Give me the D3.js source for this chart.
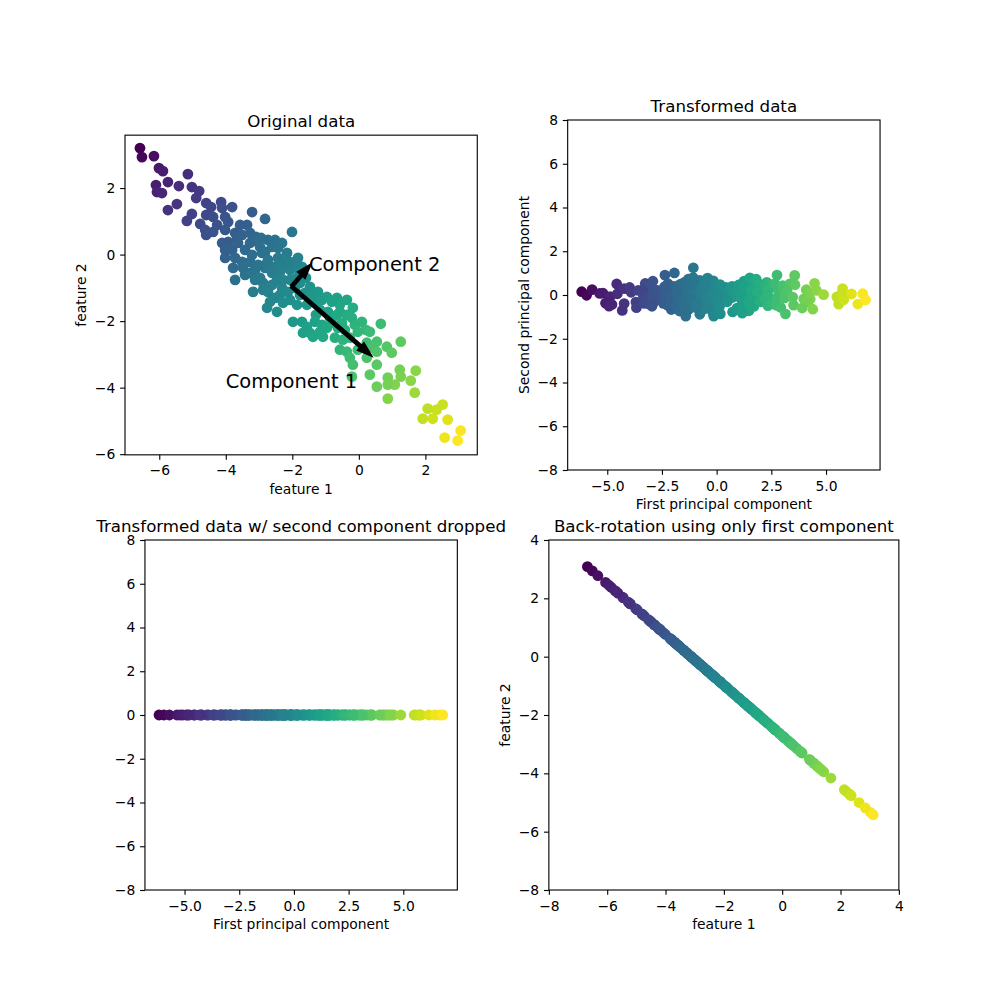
<!DOCTYPE html>
<html>
<head>
<meta charset="utf-8">
<script src="https://cdn.jsdelivr.net/npm/d3@7"></script>
<style>
body { margin: 0; background: #fff; }
text { font-family: "DejaVu Sans", sans-serif; fill: #000; }
</style>
</head>
<body>
<svg id="chart" width="1000" height="1000"></svg>
<script>
const feature1 = [
  -6.58,-6.52,-6.16,-6.01,-5.89,-5.14,-5.74,-5.41,-6.10,-6.07,-5.92,-5.02,-4.80,-4.89,-4.59,-5.47,-5.74,-5.02,-5.17,-4.59,
  -4.38,-4.14,-4.11,-3.81,-3.21,-4.77,-4.62,-4.38,-4.59,-4.02,-3.93,-4.11,-3.93,-4.02,-4.44,
  -2.82,-3.36,-4.02,-3.72,-3.51,-3.27,-3.09,-3.66,-3.93,-3.63,-4.02,-3.81,-3.42,-3.03,-2.73,-2.61,-2.94,-2.97,-2.82,-2.01,
  -3.72,-3.21,-2.91,-2.73,-2.43,-3.51,-3.78,-3.42,-3.72,-3.27,-3.12,-2.82,-2.76,-2.61,-2.52,-2.37,-2.22,-2.07,-2.37,-3.18,
  -2.88,-2.88,-2.61,-2.46,-2.31,-2.52,-2.16,-2.22,-1.98,-1.71,-3.12,-2.28,-2.37,-2.67,-2.28,-2.07,-1.77,-1.47,-1.41,-2.07,
  -1.62,-1.38,-1.56,-1.77,-1.32,-2.76,-2.46,-1.86,
  -3.27,-3.03,-3.48,-2.97,-2.73,-2.13,-1.92,-1.86,-1.77,-1.59,-1.23,-1.11,-1.29,-0.87,-1.32,-0.63,-0.42,0.09,0.21,-3.27,
  -2.43,-2.52,-2.31,-3.57,-4.26,-2.07,-1.83,
  -0.96,-0.66,-0.57,-0.93,-1.17,-0.57,-0.36,-0.81,-0.36,-0.18,-1.98,-1.71,-1.56,-1.47,-1.38,-1.68,-1.11,-0.96,-0.81,-0.66,
  -0.21,-0.12,-0.03,-1.08,-0.72,-1.17,-0.51,-0.48,-0.27,-0.57,-0.36,-0.27,-0.18,-0.03,0.24,0.42,0.24,0.33,0.54,
  0.66,0.84,0.99,0.54,1.26,0.54,0.33,-0.21,1.23,1.26,1.71,0.87,1.08,0.87,0.54,1.56,1.68,0.87,2.07,2.52,
  2.34,1.92,2.22,2.67,3.06,2.58,2.97
];
const feature2 = [
  3.20,2.93,2.96,2.60,2.51,2.42,2.18,2.06,2.09,1.88,1.85,2.03,1.91,1.70,1.55,1.52,1.34,1.22,1.01,1.19,
  1.13,1.58,1.40,1.43,1.28,0.92,0.74,0.68,0.59,1.13,0.98,0.35,0.20,-0.10,1.43,
  1.07,0.89,0.74,0.65,0.59,0.65,0.53,0.50,0.38,0.35,0.14,0.14,0.14,0.38,0.44,0.23,0.50,0.23,0.08,0.68,
  -0.10,-0.01,0.05,-0.16,-0.10,-0.22,-0.40,-0.61,-0.76,-0.55,-0.46,-0.40,-0.25,-0.55,-0.37,-0.31,-0.37,-0.46,-0.52,-1.12,
  -0.85,-1.06,-0.91,-0.76,-1.00,-1.30,0.05,-0.22,-0.31,-0.37,-0.76,-0.76,-1.21,-1.42,-1.45,-0.76,-0.85,-0.97,-1.12,-1.36,
  -1.15,-1.27,-1.51,-1.21,-1.42,-1.60,-1.72,-1.51,
  -0.22,-0.31,-0.40,-0.70,-1.12,-1.12,-1.00,-0.70,-0.52,-0.70,-1.12,-1.36,-1.81,-1.90,-2.02,-2.20,-2.26,-2.02,-2.26,0.35,
  0.20,0.44,0.35,0.89,0.89,-0.22,-0.10,
  -1.27,-1.30,-1.51,-1.72,-1.66,-1.72,-1.81,-1.42,-1.36,-1.60,-2.02,-2.02,-2.17,-2.35,-2.47,-2.35,-2.11,-2.20,-2.05,-1.81,
  -1.90,-2.11,-2.32,-2.47,-2.50,-2.32,-2.05,-2.56,-2.50,-2.86,-2.92,-3.10,-3.31,-2.86,-2.65,-2.80,-3.10,-2.32,-2.62,
  -2.08,-2.77,-2.95,-2.92,-2.62,-3.31,-3.61,-3.67,-3.46,-3.67,-3.49,-3.70,-3.91,-3.91,-3.97,-3.79,-4.15,-4.33,-4.63,-4.51,
  -4.66,-4.93,-4.93,-4.96,-5.29,-5.50,-5.59
];

const titles = ["Original data", "Transformed data",
  "Transformed data w/ second component dropped", "Back-rotation using only first component"];
const xLabels = ["feature 1", "First principal component", "First principal component", "feature 1"];
const yLabels = ["feature 2", "Second principal component", "", "feature 2"];

// axis limits as shown in the picture
const xDomains = [[-7.03, 3.56], [-6.81, 7.47], [-6.81, 7.47], [-8, 4]];
const yDomains = [[-6.02, 3.59], [-8, 8], [-8, 8], [-8, 4]];

const ticksFeature = [-6, -4, -2, 0, 2];
const ticksPC = [-5, -2.5, 0, 2.5, 5];
const ticksWide = [-8, -6, -4, -2, 0, 2, 4, 6, 8];
const ticksBack = [-8, -6, -4, -2, 0, 2, 4];

const arrowLabels = [
  {text: "Component 2", x: -1.5, y: -0.5},
  {text: "Component 1", x: -4, y: -4}
];

const PT = 100 / 72;
const svg = d3.select("#chart");
const CELL_W = 775 / 2.2, CELL_H = 770 / 2.2;
const TICK = 3.5 * PT;

// --- PCA on the blob ---
const n = feature1.length;
const mean = [d3.mean(feature1), d3.mean(feature2)];
let sxx = 0, syy = 0, sxy = 0;
for (let i = 0; i < n; i++) {
  const dx = feature1[i] - mean[0], dy = feature2[i] - mean[1];
  sxx += dx * dx; syy += dy * dy; sxy += dx * dy;
}
sxx /= n; syy /= n; sxy /= n;
const tr = sxx + syy, det = sxx * syy - sxy * sxy;
const l1 = tr / 2 + Math.sqrt(tr * tr / 4 - det);
let c1 = [l1 - syy, sxy];
let norm = Math.hypot(c1[0], c1[1]);
c1 = [c1[0] / norm, c1[1] / norm];
if (c1[0] < 0) c1 = [-c1[0], -c1[1]];
let c2 = [-c1[1], c1[0]];
if (c2[1] < 0) c2 = [-c2[0], -c2[1]];

const pc1 = [], pc2 = [];
for (let i = 0; i < n; i++) {
  const dx = feature1[i] - mean[0], dy = feature2[i] - mean[1];
  pc1.push(dx * c1[0] + dy * c1[1]);
  pc2.push(dx * c2[0] + dy * c2[1]);
}
const S = [Math.sqrt(d3.mean(pc1, v => v * v)), Math.sqrt(d3.mean(pc2, v => v * v))];
const backX = pc1.map(v => mean[0] + v * c1[0]);
const backY = pc1.map(v => mean[1] + v * c1[1]);

const color = d3.scaleSequential(d3.interpolateViridis).domain(d3.extent(pc1));

function makePanel(idx) {
  const col = idx % 2, row = Math.floor(idx / 2);
  const cx = 125 + col * CELL_W * 1.2, cy = 120 + row * CELL_H * 1.2;
  const xd = xDomains[idx], yd = yDomains[idx];
  const k = Math.min(CELL_W / (xd[1] - xd[0]), CELL_H / (yd[1] - yd[0]));
  const w = k * (xd[1] - xd[0]), h = k * (yd[1] - yd[0]);
  const x0 = cx + (CELL_W - w) / 2, y0 = cy + (CELL_H - h) / 2;
  return {
    x: d3.scaleLinear().domain(xd).range([x0, x0 + w]),
    y: d3.scaleLinear().domain(yd).range([y0 + h, y0]),
    x0, y0, w, h, g: svg.append("g")
  };
}

function scatter(p, xs, ys) {
  p.g.append("g").selectAll("circle")
    .data(d3.range(n)).enter()
    .append("circle")
    .attr("cx", i => p.x(xs[i]))
    .attr("cy", i => p.y(ys[i]))
    .attr("r", Math.sqrt(60) * PT / 2)
    .attr("fill", i => color(pc1[i]));
}

function axes(p, idx, xt, yt, xfmt, yfmt) {
  p.g.append("rect")
    .attr("x", p.x0).attr("y", p.y0).attr("width", p.w).attr("height", p.h)
    .attr("fill", "none").attr("stroke", "#000").attr("stroke-width", 0.8 * PT);

  const gx = p.g.append("g")
    .attr("transform", `translate(0,${p.y0 + p.h})`)
    .call(d3.axisBottom(p.x).tickValues(xt).tickFormat(xfmt).tickSize(TICK).tickPadding(TICK));
  const gy = p.g.append("g")
    .attr("transform", `translate(${p.x0},0)`)
    .call(d3.axisLeft(p.y).tickValues(yt).tickFormat(yfmt).tickSize(TICK).tickPadding(TICK));
  [gx, gy].forEach(g => {
    g.select(".domain").remove();
    g.attr("font-size", 10 * PT).attr("color", "#000");
    g.selectAll("line").attr("stroke-width", 0.8 * PT);
  });
  gx.selectAll("text").attr("dy", "0.78em");

  p.g.append("text")
    .attr("x", p.x0 + p.w / 2).attr("y", p.y0 + p.h + 39)
    .attr("text-anchor", "middle").attr("font-size", 10 * PT)
    .text(xLabels[idx]);

  if (yLabels[idx]) {
    const left = gy.node().getBBox().x + p.x0;
    const lx = left - 4 * PT - 3.3;
    p.g.append("text")
      .attr("transform", `translate(${lx},${p.y0 + p.h / 2}) rotate(-90)`)
      .attr("text-anchor", "middle").attr("font-size", 10 * PT)
      .text(yLabels[idx]);
  }

  p.g.append("text")
    .attr("x", p.x0 + p.w / 2).attr("y", p.y0 - 6 * PT)
    .attr("text-anchor", "middle").attr("font-size", 12 * PT)
    .text(titles[idx]);
}

// matplotlib-style FancyArrow, width .1, head_width .3
function arrowPath(p, x0, y0, dx, dy) {
  const w = 0.1, hw = 0.3, hl = 1.5 * hw;
  const dist = Math.hypot(dx, dy), len = dist + hl;
  const ux = dx / dist, uy = dy / dist, px = -uy, py = ux;
  const local = [[len, 0], [len - hl, hw / 2], [len - hl, w / 2], [0, w / 2],
                 [0, -w / 2], [len - hl, -w / 2], [len - hl, -hw / 2]];
  const pts = local.map(([a, b]) => [p.x(x0 + a * ux + b * px), p.y(y0 + a * uy + b * py)]);
  return "M" + pts.map(d => d.join(",")).join("L") + "Z";
}

const fmtInt = d3.format("d"), fmt1 = d3.format(".1f");

// panel 1
const p1 = makePanel(0);
scatter(p1, feature1, feature2);
[0, 1].forEach(j => {
  const c = j === 0 ? c1 : c2;
  p1.g.append("path")
    .attr("d", arrowPath(p1, mean[0], mean[1], S[j] * c[0], S[j] * c[1]))
    .attr("fill", "#000").attr("stroke", "#000").attr("stroke-width", PT)
    .attr("stroke-linejoin", "miter");
});
p1.g.selectAll("text.comp").data(arrowLabels).enter()
  .append("text").attr("class", "comp")
  .attr("x", d => p1.x(d.x)).attr("y", d => p1.y(d.y))
  .attr("font-size", 14 * PT)
  .text(d => d.text);
axes(p1, 0, ticksFeature, ticksFeature, fmtInt, fmtInt);

// panel 2
const p2 = makePanel(1);
scatter(p2, pc1, pc2);
axes(p2, 1, ticksPC, ticksWide, fmt1, fmtInt);

// panel 3
const p3 = makePanel(2);
scatter(p3, pc1, pc1.map(() => 0));
axes(p3, 2, ticksPC, ticksWide, fmt1, fmtInt);

// panel 4
const p4 = makePanel(3);
scatter(p4, backX, backY);
axes(p4, 3, ticksBack, ticksBack, fmtInt, fmtInt);
</script>
</body>
</html>
